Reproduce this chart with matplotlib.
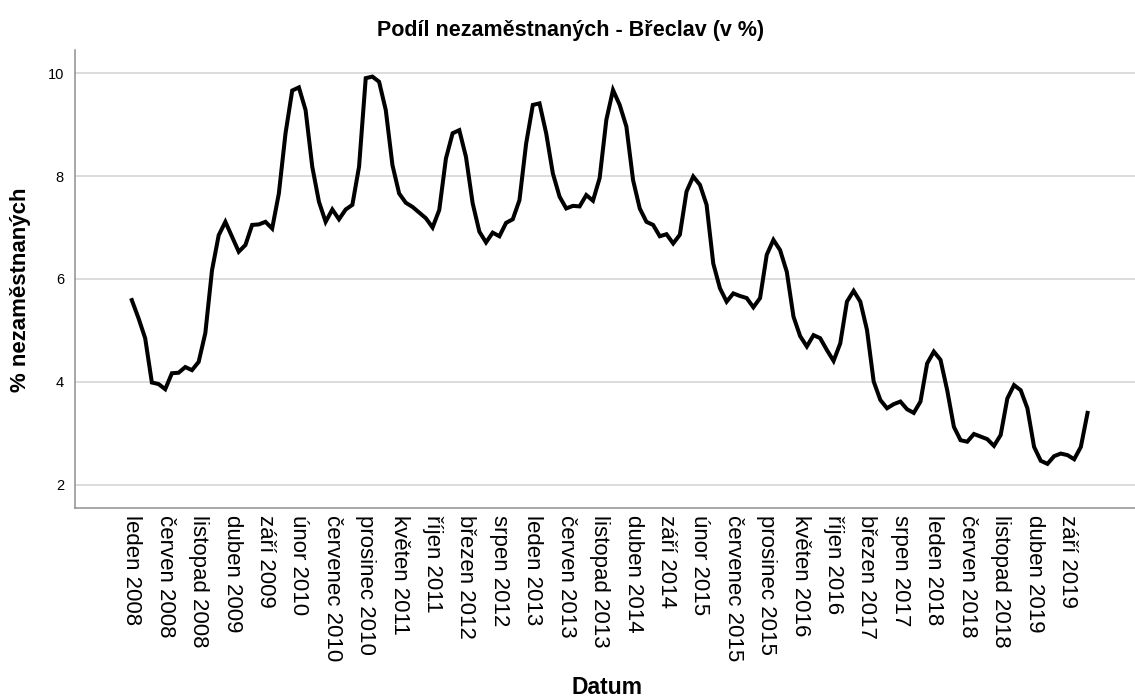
import matplotlib
matplotlib.use("Agg")
import matplotlib.pyplot as plt

plt.rcParams['font.family'] = ['Liberation Sans', 'DejaVu Sans']

# monthly share of unemployed, Jan 2008 - Dec 2019
rate_2008 = [5.59, 5.24, 4.85, 3.99, 3.96, 3.86, 4.17, 4.18, 4.29, 4.23, 4.39, 4.95]
rate_2009 = [6.17, 6.85, 7.11, 6.82, 6.53, 6.66, 7.05, 7.06, 7.11, 6.98, 7.66, 8.83]
rate_2010 = [9.66, 9.72, 9.28, 8.18, 7.50, 7.11, 7.35, 7.16, 7.35, 7.44, 8.18, 9.90]
rate_2011 = [9.93, 9.83, 9.28, 8.21, 7.66, 7.48, 7.40, 7.29, 7.18, 7.00, 7.34, 8.34]
rate_2012 = [8.83, 8.89, 8.37, 7.47, 6.92, 6.71, 6.90, 6.83, 7.09, 7.16, 7.53, 8.63]
rate_2013 = [9.38, 9.41, 8.83, 8.05, 7.60, 7.37, 7.42, 7.41, 7.63, 7.52, 7.96, 9.09]
rate_2014 = [9.67, 9.38, 8.96, 7.92, 7.37, 7.11, 7.05, 6.83, 6.87, 6.69, 6.86, 7.70]
rate_2015 = [7.99, 7.83, 7.44, 6.30, 5.82, 5.56, 5.72, 5.67, 5.63, 5.45, 5.63, 6.47]
rate_2016 = [6.76, 6.56, 6.14, 5.27, 4.89, 4.69, 4.91, 4.85, 4.62, 4.41, 4.75, 5.56]
rate_2017 = [5.77, 5.56, 5.01, 4.01, 3.65, 3.49, 3.57, 3.62, 3.47, 3.40, 3.62, 4.36]
rate_2018 = [4.59, 4.43, 3.84, 3.13, 2.87, 2.84, 2.99, 2.94, 2.89, 2.76, 2.97, 3.68]
rate_2019 = [3.94, 3.84, 3.49, 2.74, 2.47, 2.41, 2.56, 2.61, 2.58, 2.50, 2.74, 3.40]

rates = (rate_2008 + rate_2009 + rate_2010 + rate_2011 + rate_2012 + rate_2013
         + rate_2014 + rate_2015 + rate_2016 + rate_2017 + rate_2018 + rate_2019)
months = list(range(len(rates)))

tick_pos = list(range(0, 141, 5))
tick_labels = ['leden 2008', 'červen 2008', 'listopad 2008', 'duben 2009', 'září 2009',
               'únor 2010', 'červenec 2010', 'prosinec 2010', 'květen 2011', 'říjen 2011',
               'březen 2012', 'srpen 2012', 'leden 2013', 'červen 2013', 'listopad 2013',
               'duben 2014', 'září 2014', 'únor 2015', 'červenec 2015', 'prosinec 2015',
               'květen 2016', 'říjen 2016', 'březen 2017', 'srpen 2017', 'leden 2018',
               'červen 2018', 'listopad 2018', 'duben 2019', 'září 2019']

fig = plt.figure(figsize=(11.35, 6.98), dpi=100)
ax = fig.add_axes([75 / 1135, 1 - 508 / 698, 1060 / 1135, 458 / 698])

ax.plot(months, rates, color='black', linewidth=2.9, solid_joinstyle='miter')

ax.set_xlim(-8.5, 150.1)
ax.set_ylim(1.553, 10.447)
ax.set_yticks([2, 4, 6, 8, 10])
ax.yaxis.grid(True, color='#d2d2d2', linewidth=1.1)
ax.set_axisbelow(True)

ax.set_xticks(tick_pos)
ax.set_xticklabels(tick_labels, rotation=270, fontsize=16, ha='center', va='top')
ax.tick_params(axis='x', length=0, pad=5)
ax.tick_params(axis='y', length=0, pad=8, labelsize=10.5)

for s in ['top', 'right']:
    ax.spines[s].set_visible(False)
for s in ['left', 'bottom']:
    ax.spines[s].set_color('#8f8f8f')
    ax.spines[s].set_linewidth(1.1)

fig.text(0.503, 0.957, 'Podíl nezaměstnaných - Břeclav (v %)', ha='center', va='center',
         fontsize=15.5, fontweight='bold')
fig.text(0.0185, 0.585, '% nezaměstnaných', ha='center', va='center', rotation=90,
         fontsize=16, fontweight='bold')
fig.text(0.535, 0.0145, 'Datum', ha='center', va='center', fontsize=16.5, fontweight='bold')

fig.savefig('out.png', dpi=100)
